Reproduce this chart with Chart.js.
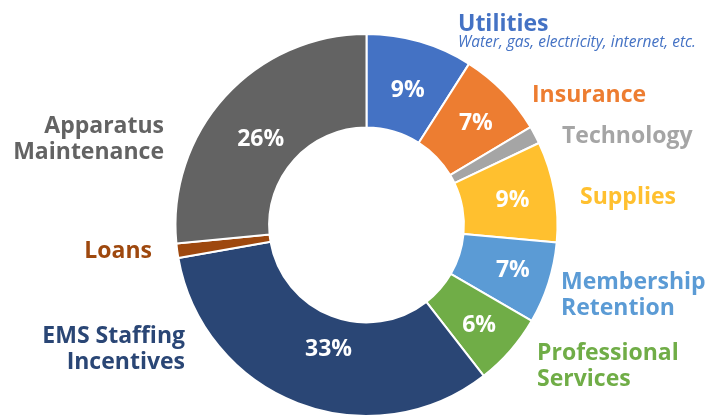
<!DOCTYPE html>
<html>
<head>
<meta charset="utf-8">
<script src="https://cdn.jsdelivr.net/npm/chart.js@4.4.0/dist/chart.umd.min.js"></script>
<style>
  html, body { margin: 0; padding: 0; background: #fff; overflow: hidden; }
  #wrap { position: absolute; left: 0; top: 0; width: 709px; height: 417px; }
</style>
</head>
<body>
<div id="wrap"><canvas id="grafica"></canvas></div>
<script>
// Datos del gráfico
const categorias = ['Utilities', 'Insurance', 'Technology', 'Supplies', 'Membership Retention',
                    'Professional Services', 'EMS Staffing Incentives', 'Loans', 'Apparatus Maintenance'];
const valores = [9, 7.4, 1.5, 8.5, 6.9, 6.1, 32.7, 1.2, 26.5];
const etiquetasPct = ['9%', '7%', '', '9%', '7%', '6%', '33%', '', '26%'];
const colores = ['#4472C4', '#ED7D31', '#A5A5A5', '#FFC02F', '#5B9BD5', '#70AD47', '#2A4675', '#9E480E', '#636363'];

// Ajuste fino de los porcentajes respecto al centro del arco
const desplazPct = [[1, 4], [6, -1], [0, 0], [4, 1], [9, 2], [4, 6], [14, -10], [0, 0], [1, 11]];

// Etiquetas externas (texto, posición en el lienzo)
const etiquetasExternas = [
    { lineas: ['Utilities'], x: 458, y: 31, align: 'left', color: colores[0] },
    { lineas: ['Insurance'], x: 532, y: 102, align: 'left', color: colores[1] },
    { lineas: ['Technology'], x: 562, y: 143, align: 'left', color: colores[2] },
    { lineas: ['Supplies'], x: 580, y: 204, align: 'left', color: colores[3] },
    { lineas: ['Membership', 'Retention'], x: 561, y: 289, align: 'left', color: colores[4] },
    { lineas: ['Professional', 'Services'], x: 537, y: 360, align: 'left', color: colores[5] },
    { lineas: ['EMS Staffing', 'Incentives'], x: 185, y: 343, align: 'right', color: colores[6] },
    { lineas: ['Loans'], x: 152, y: 258, align: 'right', color: colores[7] },
    { lineas: ['Apparatus', 'Maintenance'], x: 164, y: 133, align: 'right', color: colores[8] }
];

const pluginEtiquetas = {
    id: 'etiquetas',
    afterDatasetsDraw(chart) {
        const ctx = chart.ctx;
        const meta = chart.getDatasetMeta(0);
        ctx.save();
        // Porcentajes dentro de cada arco
        ctx.font = 'bold 23px "Open Sans"';
        ctx.fillStyle = '#ffffff';
        ctx.textAlign = 'center';
        ctx.textBaseline = 'middle';
        meta.data.forEach((arc, i) => {
            if (!etiquetasPct[i]) return;
            const p = arc.tooltipPosition();
            ctx.fillText(etiquetasPct[i], p.x + desplazPct[i][0], p.y + desplazPct[i][1]);
        });
        // Nombres de categorías
        ctx.textBaseline = 'alphabetic';
        ctx.font = 'bold 23px "Open Sans"';
        etiquetasExternas.forEach(e => {
            ctx.fillStyle = e.color;
            ctx.textAlign = e.align;
            e.lineas.forEach((l, k) => ctx.fillText(l, e.x, e.y + k * 26));
        });
        // Subtítulo de Utilities
        ctx.font = 'italic 15.5px "Open Sans"';
        ctx.fillStyle = colores[0];
        ctx.textAlign = 'left';
        ctx.fillText('Water, gas, electricity, internet, etc.', 458, 47);
        ctx.restore();
    }
};

new Chart(document.getElementById('grafica'), {
    type: 'doughnut',
    data: {
        labels: categorias,
        datasets: [{
            data: valores,
            backgroundColor: colores,
            borderColor: '#ffffff',
            borderWidth: 2
        }]
    },
    options: {
        responsive: true,
        maintainAspectRatio: false,
        animation: false,
        cutout: '51%',
        layout: { padding: { top: 33, bottom: 0, left: 24, right: 0 } },
        plugins: {
            legend: { display: false },
            tooltip: { enabled: false }
        }
    },
    plugins: [pluginEtiquetas]
});
</script>
</body>
</html>
